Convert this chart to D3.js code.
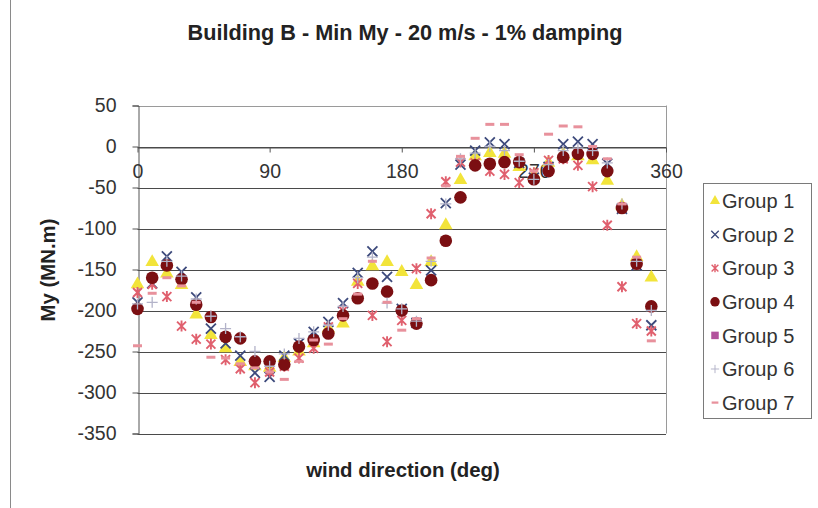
<!DOCTYPE html>
<html>
<head>
<meta charset="utf-8">
<script src="https://cdn.jsdelivr.net/npm/d3@7"></script>
<style>
  body { margin: 0; background: #fff; }
  svg { display: block; font-family: "Liberation Sans", Arial, sans-serif; }
</style>
</head>
<body>
<svg id="chart" width="818" height="508"></svg>
<script>
// ---------------- data ----------------
const titleText = "Building B - Min My - 20 m/s - 1% damping";
const xLabel = "wind direction (deg)";
const yLabel = "My (MN.m)";
const directions = [0,10,20,30,40,50,60,70,80,90,100,110,120,130,140,150,160,170,180,190,200,210,220,230,240,250,260,270,280,290,300,310,320,330,340,350];
const xTicks = [0, 90, 180, 270, 360];
const yTicks = [50, 0, -50, -100, -150, -200, -250, -300, -350];
const seriesNames = ["Group 1","Group 2","Group 3","Group 4","Group 5","Group 6","Group 7"];

const group1 = [-168,-141,-155,-169,-205,-230,-246,-263,-268,-270,-258,-250,-240,-222,-216,-165,-146,-141,-153,-169,-141,-96,-41,-12,-8,-9,-25,-35,-20,-10,-12,-17,-42,-72,-135,-160];
const group2 = [-190,-167,-134,-153,-184,-222,-240,-255,-276,-281,-255,-240,-226,-214,-191,-154,-128,-159,-198,-215,-151,-69,-22,-5,5,3,-20,-38,-25,3,6,3,-21,-76,-145,-218];
const group3 = [-178,-168,-183,-219,-235,-241,-260,-271,-288,-275,-268,-258,-246,-220,-200,-167,-206,-238,-212,-149,-82,-43,-19,-20,-30,-34,-44,-32,-17,-15,-23,-49,-96,-171,-216,-225];
const group4 = [-198,-160,-145,-162,-193,-208,-232,-234,-262,-262,-266,-244,-236,-228,-206,-185,-167,-177,-200,-216,-163,-115,-62,-23,-21,-19,-19,-40,-30,-13,-9,-9,-30,-75,-143,-195];
const group5 = [];
const group6 = [-192,-190,-140,-158,-186,-207,-222,-232,-250,-268,-253,-234,-226,-218,-195,-160,-135,-191,-198,-213,-140,-70,-15,-8,0,-5,-18,-40,-22,-5,-2,-5,-20,-70,-140,-200];
const group7 = [-243,-179,-160,-170,-190,-257,-258,-265,-270,-275,-284,-262,-236,-241,-210,-180,-140,-190,-224,-210,-136,-48,-12,10,27,27,-10,-30,15,25,24,0,-15,-70,-135,-237];
const seriesValues = [group1, group2, group3, group4, group5, group6, group7];

// ---------------- styles ----------------
const colors = ["#f2e43a", "#3d4a7c", "#e0606e", "#7b0f12", "#b2519c", "#b3b3c9", "#e8919c"];
const shapes = ["triangle", "x", "star", "circle", "square", "plus", "dash"];

const svg = d3.select("#chart");
const W = 818, H = 508;

svg.append("rect").attr("width", W).attr("height", H).attr("fill", "#fff");
// chart area border (left edge visible)
svg.append("line").attr("x1", 10.5).attr("x2", 10.5).attr("y1", 0).attr("y2", H)
  .attr("stroke", "#8a8a8a").attr("stroke-width", 1);

const x = d3.scaleLinear().domain([0, 360]).range([137.5, 666]);
const y = d3.scaleLinear().domain([-350, 50]).range([433.5, 105.5]);

// gridlines
svg.append("g").selectAll("line").data(yTicks).join("line")
  .attr("x1", x(0)).attr("x2", x(360))
  .attr("y1", d => Math.round(y(d)) + 0.5).attr("y2", d => Math.round(y(d)) + 0.5)
  .attr("stroke", d => d === 50 ? "#9a9a9a" : "#4a4a4a").attr("stroke-width", 1);
// plot right border
svg.append("line").attr("x1", Math.round(x(360)) + 0.5).attr("x2", Math.round(x(360)) + 0.5)
  .attr("y1", y(50)).attr("y2", y(-350)).attr("stroke", "#9a9a9a");

// y axis
const yAxis = d3.axisLeft(y).tickValues(yTicks).tickSize(6).tickPadding(16).tickFormat(d => String(d));
const gy = svg.append("g").attr("transform", `translate(${Math.round(x(0)) + 0.5},0)`).call(yAxis);
gy.select(".domain").attr("stroke", "#555");
gy.selectAll(".tick line").attr("stroke", "#555");
gy.selectAll(".tick text").attr("font-size", 19.5).attr("fill", "#333")
  .attr("font-family", "Liberation Sans, Arial, sans-serif");

// x axis along y=0
const xAxis = d3.axisBottom(x).tickValues(xTicks).tickSize(5).tickPadding(12).tickSizeOuter(0).tickFormat(d => String(d));
const gx = svg.append("g").attr("transform", `translate(0,${Math.round(y(0)) + 0.5})`).call(xAxis);
gx.select(".domain").attr("stroke", "#4a4a4a");
gx.selectAll(".tick line").attr("stroke", "#555");
gx.selectAll(".tick text").attr("font-size", 19.5).attr("fill", "#333")
  .attr("font-family", "Liberation Sans, Arial, sans-serif");

// marker drawing
function drawMarker(g, shape, color) {
  switch (shape) {
    case "triangle":
      g.append("path").attr("d", d3.symbol(d3.symbolTriangle, 80)()).attr("fill", color);
      break;
    case "circle":
      g.append("circle").attr("r", 6.3).attr("fill", color);
      break;
    case "square":
      g.append("rect").attr("x", -5).attr("y", -5).attr("width", 10).attr("height", 10).attr("fill", color);
      break;
    case "x":
      g.append("path").attr("d", "M-5,-5L5,5M-5,5L5,-5").attr("stroke", color).attr("stroke-width", 1.8).attr("fill", "none");
      break;
    case "star":
      g.append("path").attr("d", "M-4.5,-4.5L4.5,4.5M-4.5,4.5L4.5,-4.5M0,-5.5L0,5.5").attr("stroke", color).attr("stroke-width", 1.9).attr("fill", "none");
      break;
    case "plus":
      g.append("path").attr("d", "M-5.5,0L5.5,0M0,-5.5L0,5.5").attr("stroke", color).attr("stroke-width", 1.3).attr("fill", "none");
      break;
    case "dash":
      g.append("path").attr("d", "M-4.5,0L4.5,0").attr("stroke", color).attr("stroke-width", 3).attr("fill", "none");
      break;
  }
}

// series
seriesValues.forEach((vals, si) => {
  const pts = vals.map((v, i) => ({ d: directions[i], v })).filter(p => p.v != null);
  const g = svg.append("g").attr("class", "series-" + (si + 1));
  g.selectAll("g").data(pts).join("g")
    .attr("transform", p => `translate(${x(p.d)},${y(p.v)})`)
    .each(function () { drawMarker(d3.select(this), shapes[si], colors[si]); });
});

// titles
svg.append("text").attr("x", 405).attr("y", 40).attr("text-anchor", "middle")
  .attr("font-size", 21.7).attr("font-weight", "bold").attr("fill", "#222").text(titleText);
svg.append("text").attr("x", 403).attr("y", 477).attr("text-anchor", "middle")
  .attr("font-size", 20.4).attr("font-weight", "bold").attr("fill", "#222").text(xLabel);
svg.append("text").attr("transform", "translate(55,270) rotate(-90)").attr("text-anchor", "middle")
  .attr("font-size", 20.4).attr("font-weight", "bold").attr("fill", "#222").text(yLabel);

// legend
const lg = svg.append("g");
lg.append("rect").attr("x", 703.5).attr("y", 183.5).attr("width", 108).attr("height", 235)
  .attr("fill", "#fff").attr("stroke", "#7a7a7a");
seriesNames.forEach((name, i) => {
  const cy = 201 + i * 33.6;
  const m = lg.append("g").attr("transform", `translate(715,${cy}) scale(0.75)`);
  drawMarker(m, shapes[i], colors[i]);
  lg.append("text").attr("x", 722).attr("y", cy).attr("dy", "0.36em")
    .attr("font-size", 20).attr("fill", "#333").text(name);
});
</script>
</body>
</html>
